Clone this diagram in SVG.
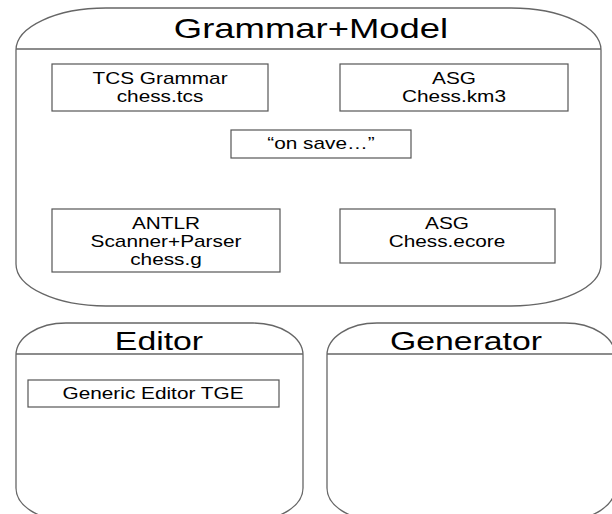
<svg xmlns="http://www.w3.org/2000/svg" width="612" height="514" viewBox="0 0 612 514">
<style>
.cont{fill:#fff;stroke:#666;stroke-width:1.3}
.sep{stroke:#666;stroke-width:1.3}
.box{fill:#fff;stroke:#555;stroke-width:1.2}
.t{font-family:"Liberation Sans",Arial,sans-serif;fill:#000;text-anchor:middle}
.title{font-size:27px}
.sub{font-size:26px}
.lbl{font-size:16px}
</style>
<rect width="612" height="514" fill="#fff"/>
<g id="grammar-model">
<rect class="cont" x="16" y="8" width="585" height="298" rx="90" ry="42"/>
<line class="sep" x1="16" y1="49" x2="601" y2="49"/>
<text class="t title" transform="translate(311,38) scale(1.35,1)">Grammar+Model</text>
</g>
<g id="tcs-grammar">
<rect class="box" x="52" y="64" width="216" height="47"/>
<text class="t lbl" transform="translate(160,84) scale(1.3,1)">TCS Grammar</text>
<text class="t lbl" transform="translate(160,102) scale(1.3,1)">chess.tcs</text>
</g>
<g id="asg-km3">
<rect class="box" x="340" y="64" width="228" height="47"/>
<text class="t lbl" transform="translate(454,84) scale(1.3,1)">ASG</text>
<text class="t lbl" transform="translate(454,102) scale(1.3,1)">Chess.km3</text>
</g>
<g id="on-save">
<rect class="box" x="231" y="130" width="180" height="28"/>
<text class="t lbl" transform="translate(321,149) scale(1.3,1)">“on save…”</text>
</g>
<g id="antlr">
<rect class="box" x="52" y="209" width="228" height="63"/>
<text class="t lbl" transform="translate(166,229) scale(1.3,1)">ANTLR</text>
<text class="t lbl" transform="translate(166,247) scale(1.3,1)">Scanner+Parser</text>
<text class="t lbl" transform="translate(166,265) scale(1.3,1)">chess.g</text>
</g>
<g id="asg-ecore">
<rect class="box" x="340" y="209" width="215" height="54"/>
<text class="t lbl" transform="translate(447,229) scale(1.3,1)">ASG</text>
<text class="t lbl" transform="translate(447,247) scale(1.3,1)">Chess.ecore</text>
</g>
<g id="editor">
<rect class="cont" x="16" y="323" width="287" height="197" rx="50" ry="32"/>
<line class="sep" x1="16" y1="354" x2="303" y2="354"/>
<text class="t sub" transform="translate(159,350) scale(1.3,1)">Editor</text>
</g>
<g id="generic-editor">
<rect class="box" x="28" y="380" width="251" height="27"/>
<text class="t lbl" transform="translate(153,399) scale(1.3,1)">Generic Editor TGE</text>
</g>
<g id="generator">
<rect class="cont" x="327" y="323" width="288" height="197" rx="50" ry="32"/>
<line class="sep" x1="327" y1="354" x2="615" y2="354"/>
<text class="t sub" transform="translate(466,350) scale(1.3,1)">Generator</text>
</g>
<g id="connectors"></g>
</svg>
